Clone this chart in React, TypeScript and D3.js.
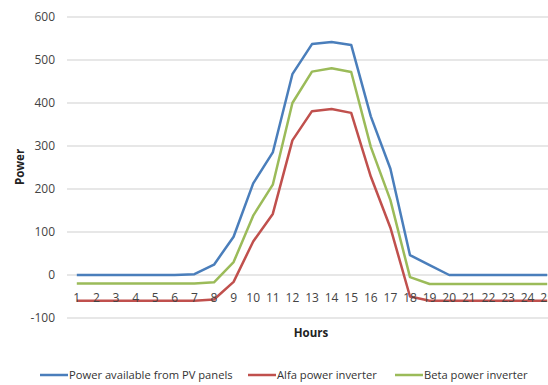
import React, { useRef, useEffect } from 'react';
import * as d3 from 'd3';

const hours = d3.range(1, 26).map(String);
const pvPower = [0, 0, 0, 0, 0, 0, 2, 24, 89, 213, 285, 467, 537, 542, 535, 369, 247, 46, 23, 0, 0, 0, 0, 0, 0];
const alfaPower = [-60, -60, -60, -60, -60, -60, -60, -57, -16, 78, 142, 313, 381, 386, 377, 229, 110, -50, -60, -60, -60, -60, -60, -60, -60];
const betaPower = [-20, -20, -20, -20, -20, -20, -20, -17, 30, 138, 210, 400, 473, 481, 472, 298, 174, -5, -21, -21, -21, -21, -21, -21, -21];
const yTicks = [-100, 0, 100, 200, 300, 400, 500, 600];

const seriesList = [
    { name: 'Power available from PV panels', values: pvPower, color: '#4a7ebb' },
    { name: 'Alfa power inverter', values: alfaPower, color: '#c0504d' },
    { name: 'Beta power inverter', values: betaPower, color: '#9bbb59' },
];

const App = () => {
    const svgRef = useRef<SVGSVGElement>(null);
    const width = 548;
    const height = 385;
    const font = "'Open Sans', 'Liberation Sans', sans-serif";

    useEffect(() => {
        const svg = d3.select(svgRef.current);
        svg.selectAll('*').remove(); // Clear existing content

        const x = d3.scaleBand().domain(hours).range([67, 557]);
        const y = d3.scaleLinear().domain([-100, 600]).range([318, 17]);
        const cx = (h: string) => (x(h) as number) + x.bandwidth() / 2;

        // Gridlines
        svg.append('g')
            .selectAll('line')
            .data(yTicks)
            .join('line')
            .attr('x1', 67)
            .attr('x2', width)
            .attr('y1', d => y(d))
            .attr('y2', d => y(d))
            .attr('stroke', '#d0d0d0')
            .attr('stroke-width', 1.2);

        // Y tick labels
        svg.append('g')
            .selectAll('text')
            .data(yTicks)
            .join('text')
            .attr('x', 55)
            .attr('y', d => y(d))
            .attr('dy', '0.35em')
            .attr('text-anchor', 'end')
            .attr('font-family', font)
            .attr('font-size', 12)
            .attr('fill', '#444')
            .text(d => d);

        // Lines
        const line = d3.line<number>()
            .x((_, i) => cx(hours[i]))
            .y(d => y(d));

        seriesList.forEach(s => {
            svg.append('path')
                .attr('d', line(s.values))
                .attr('fill', 'none')
                .attr('stroke', s.color)
                .attr('stroke-width', 2.5)
                .attr('stroke-linejoin', 'round');
        });

        // Category labels (drawn over the lines, near zero)
        svg.append('g')
            .selectAll('text')
            .data(hours)
            .join('text')
            .attr('x', d => cx(d))
            .attr('y', 302)
            .attr('text-anchor', 'middle')
            .attr('font-family', font)
            .attr('font-size', 12)
            .attr('fill', '#444')
            .text(d => d);

        // Axis titles
        svg.append('text')
            .attr('x', 311)
            .attr('y', 337)
            .attr('text-anchor', 'middle')
            .attr('font-family', font)
            .attr('font-size', 11.5)
            .attr('font-weight', 'bold')
            .attr('fill', '#222')
            .text('Hours');

        svg.append('text')
            .attr('transform', 'translate(24, 167) rotate(-90)')
            .attr('text-anchor', 'middle')
            .attr('font-family', font)
            .attr('font-size', 11.5)
            .attr('font-weight', 'bold')
            .attr('fill', '#222')
            .text('Power');

        // Legend
        const legendX = [40, 248, 395];
        const legend = svg.append('g');
        seriesList.forEach((s, i) => {
            legend.append('line')
                .attr('x1', legendX[i])
                .attr('x2', legendX[i] + 28)
                .attr('y1', 375)
                .attr('y2', 375)
                .attr('stroke', s.color)
                .attr('stroke-width', 2.5);
            legend.append('text')
                .attr('x', legendX[i] + 29)
                .attr('y', 375)
                .attr('dy', '0.35em')
                .attr('font-family', font)
                .attr('font-size', 11.2)
                .attr('fill', '#333')
                .text(s.name);
        });
    }, []);

    return (
        <svg
            ref={svgRef}
            width={width}
            height={height}
            style={{ position: 'absolute', left: 0, top: 0, background: '#fff' }}
        />
    );
};

export default App;
